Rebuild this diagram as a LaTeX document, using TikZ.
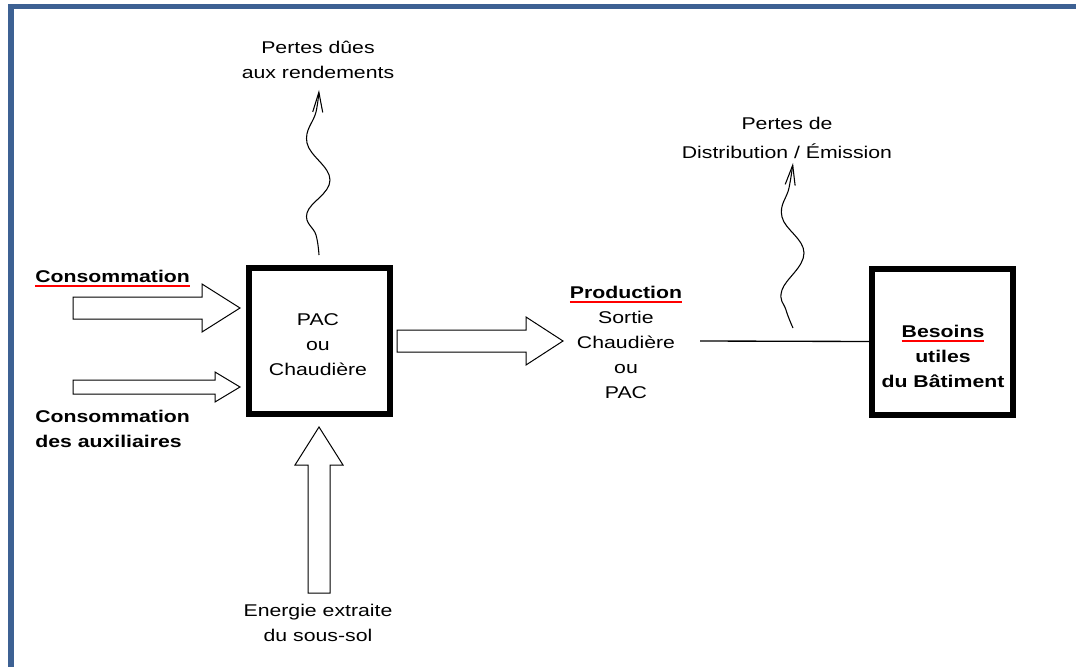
\documentclass[tikz,border=0pt]{standalone}
\usepackage{fontspec}
\setmainfont[FakeStretch=1.25]{Liberation Sans}
\usetikzlibrary{arrows.meta}

\definecolor{framebleu}{RGB}{61,97,147}
% mot souligne en rouge
\newcommand{\redul}[1]{\setbox0\hbox{\bfseries #1}\rlap{\color{red}\rule[-3.9pt]{\wd0}{1.8pt}}\box0}

\tikzset{
  lbl/.style={inner sep=0pt, align=center, font=\fontsize{12.75}{18.75}\selectfont},
  lblb/.style={lbl, font=\fontsize{12.75}{18.75}\selectfont\bfseries},
  bigbox/.style={draw, line width=4.5pt, minimum width=105.75pt, minimum height=109.5pt, inner sep=0pt},
  blockarrow/.style={draw, line width=0.75pt, fill=white},
  wavy/.style={line width=0.8pt, -{Straight Barb[length=15pt,width=7.5pt]}},
  frame/.style={draw=framebleu, line width=4.1pt}
}

\begin{document}
\begin{tikzpicture}[x=0.75pt,y=-0.75pt]
\useasboundingbox (0,0) rectangle (1076,667);
\clip (0,0) rectangle (1076,667);
\draw[frame] (11,6.5) rectangle (1100,700);

% boites
\node[bigbox] (pac) at (319,341) {};
\node[bigbox] (besoins) at (942.5,341.5) {};
\node[lbl, anchor=base] (pactxt) at (318,375) {PAC\\ou\\Chaudière};
\node[lblb, anchor=base] (besoinstxt) at (943,387) {\redul{Besoins}\\utiles\\du Bâtiment};

% textes
\node[lbl, anchor=base] (pertesrend) at (318,79) {Pertes dûes\\aux rendements};
\node[lbl, anchor=base, font=\fontsize{12.75}{21.75}\selectfont] (pertesdist) at (787,159) {Pertes de\\Distribution / Émission};
\node[lblb, anchor=base west] (conso) at (35,282) {\redul{Consommation}};
\node[lblb, anchor=base west, align=left] (aux) at (35,447) {Consommation\\des auxiliaires};
\node[lbl, anchor=base] (prod) at (626,398) {\redul{Production}\\Sortie\\Chaudière\\ou\\PAC};
\node[lbl, anchor=base] (energie) at (318,641) {Energie extraite\\du sous-sol};

% fleches larges
\draw[blockarrow] (73,297) -- (202,297) -- (202,284) -- (240,308) -- (202,332) -- (202,319) -- (73,319) -- cycle;
\draw[blockarrow] (73,380) -- (215,380) -- (215,372) -- (240,387) -- (215,402) -- (215,394) -- (73,394) -- cycle;
\draw[blockarrow] (397,330) -- (526,330) -- (526,317) -- (563,341) -- (526,365) -- (526,352) -- (397,352) -- cycle;
\draw[blockarrow] (308,593) -- (308,465) -- (295,465) -- (319,427) -- (343,465) -- (330,465) -- (330,593) -- cycle;

% liaison vers les besoins
\coordinate (depart) at (700,341);
\draw[line width=1pt] (depart) -- (besoins.west);

% pertes
\draw[wavy] plot[smooth, tension=0.7] coordinates {(319,255) (316,235) (307,213) (330,180) (307,143) (316,112) (319,90)};
\draw[wavy] plot[smooth, tension=0.7] coordinates {(793,328) (786,310) (782,290) (804,253) (782,217) (789,188) (793,163)};
\end{tikzpicture}
\end{document}
